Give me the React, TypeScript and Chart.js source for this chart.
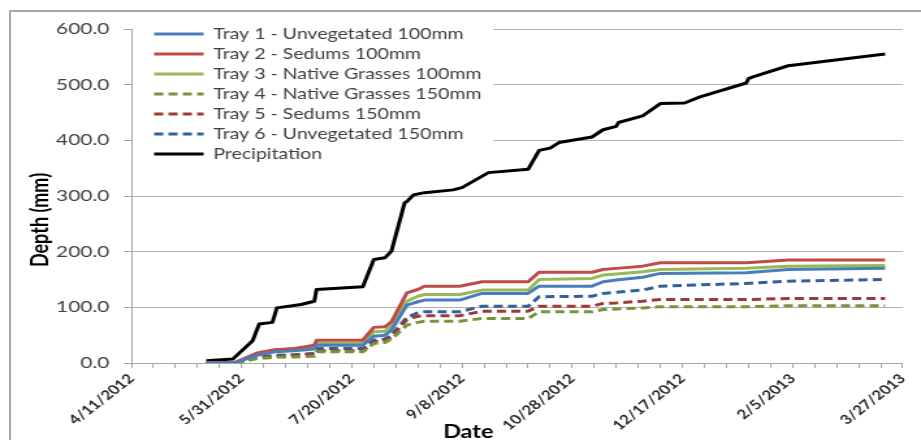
import React, { useEffect, useRef } from 'react';
import { Chart, registerables } from 'chart.js';

Chart.register(...registerables);

// ---------- data ----------
const AXIS_START = '4/11/2012';
const AXIS_END = '3/27/2013';
const minorTickDays = 10;
const labelEveryDays = 50;
const yTicks = [0, 100, 200, 300, 400, 500, 600];

const seriesNames = [
  'Tray 1 - Unvegetated 100mm',
  'Tray 2 - Sedums 100mm',
  'Tray 3 - Native Grasses 100mm',
  'Tray 4 - Native Grasses 150mm',
  'Tray 5 - Sedums 150mm',
  'Tray 6 - Unvegetated 150mm',
  'Precipitation',
];

const precipDates = [
  '5/15/2012', '5/27/2012', '6/5/2012', '6/8/2012', '6/14/2012', '6/16/2012', '6/27/2012',
  '7/3/2012', '7/4/2012', '7/25/2012', '7/30/2012', '8/4/2012', '8/7/2012', '8/13/2012',
  '8/14/2012', '8/17/2012', '8/22/2012', '9/4/2012', '9/8/2012', '9/20/2012', '10/8/2012',
  '10/13/2012', '10/18/2012', '10/22/2012', '11/6/2012', '11/11/2012', '11/17/2012',
  '11/18/2012', '11/29/2012', '12/7/2012', '12/18/2012', '12/25/2012', '1/15/2013',
  '1/16/2013', '1/18/2013', '2/3/2013', '3/19/2013',
];
const precipitation = [
  4, 7, 40, 70, 73, 99, 105,
  111, 132, 137, 186, 189, 201, 288,
  290, 302, 306, 311, 315, 342, 348,
  382, 386, 396, 406, 419, 425,
  432, 444, 466, 467, 478, 503,
  511, 514, 534, 555,
];

const trayDates = [
  '5/15/2012', '5/28/2012', '6/7/2012', '6/15/2012', '6/24/2012', '7/3/2012', '7/4/2012',
  '7/25/2012', '7/30/2012', '8/4/2012', '8/7/2012', '8/14/2012', '8/19/2012', '8/22/2012',
  '9/7/2012', '9/17/2012', '10/8/2012', '10/13/2012', '11/6/2012', '11/11/2012', '11/17/2012',
  '11/29/2012', '12/7/2012', '1/15/2013', '2/3/2013', '3/19/2013',
];
const tray1 = [0, 0, 14, 20, 22, 25, 32, 32, 48, 50, 59, 104, 110, 113, 113, 125, 125, 138, 138, 146, 149, 154, 161, 162, 168, 170];
const tray2 = [0, 1, 18, 24, 26, 32, 41, 41, 64, 65, 74, 126, 132, 138, 138, 146, 146, 163, 163, 168, 170, 174, 180, 180, 185, 185];
const tray3 = [0, 1, 16, 23, 25, 29, 35, 35, 56, 57, 67, 111, 120, 123, 123, 131, 131, 150, 152, 158, 160, 164, 168, 170, 174, 175];
const tray4 = [0, 0, 8, 10, 11, 12, 20, 20, 35, 37, 43, 68, 73, 75, 75, 80, 80, 92, 92, 96, 97, 99, 101, 101, 103, 103];
const tray5 = [0, 0, 10, 12, 14, 16, 22, 22, 38, 40, 47, 78, 84, 85, 85, 93, 93, 102, 102, 107, 108, 111, 114, 114, 116, 116];
const tray6 = [0, 0, 10, 14, 15, 17, 26, 26, 41, 43, 50, 82, 90, 92, 92, 102, 102, 119, 120, 125, 127, 131, 138, 143, 147, 150];

// ---------- helpers ----------
const DAY_MS = 86400000;
const toUTC = (s: string) => {
  const [m, d, y] = s.split('/').map(Number);
  return Date.UTC(y, m - 1, d);
};
const ORIGIN = toUTC(AXIS_START);
const toDay = (s: string) => Math.round((toUTC(s) - ORIGIN) / DAY_MS);
const fmtDay = (n: number) => {
  const dt = new Date(ORIGIN + n * DAY_MS);
  return `${dt.getUTCMonth() + 1}/${dt.getUTCDate()}/${dt.getUTCFullYear()}`;
};
const pts = (dates: string[], vals: number[]) => dates.map((d, i) => ({ x: toDay(d), y: vals[i] }));

const FONT = 'Lato';
const STRETCH = 1.3; // source picture is horizontally stretched
const CSS_W = 921;
const CSS_H = 440;
const BMP_W = Math.round(CSS_W / STRETCH);

const legendPlacement = {
  id: 'legendPlacement',
  afterLayout(chart: any) {
    const lg = chart.legend;
    if (!lg) return;
    const ca = chart.chartArea;
    lg.left = ca.left + 12.5;
    lg.right = lg.left + lg.width;
    lg.top = ca.top - 7.5;
    lg.bottom = lg.top + lg.height;
  },
  beforeDatasetsDraw(chart: any) {
    const lg = chart.legend;
    if (!lg || !lg.legendHitBoxes || !lg.legendHitBoxes.length) return;
    const ctx = chart.ctx;
    const ca = chart.chartArea;
    const boxes = lg.legendHitBoxes;
    const right = Math.max(...boxes.map((b: any) => b.left + b.width)) + 9;
    const last = boxes[boxes.length - 1];
    const bottom = last.top + last.height + 4;
    ctx.save();
    ctx.fillStyle = '#ffffff';
    ctx.fillRect(ca.left + 1, lg.top - 2, right - ca.left - 1, bottom - lg.top + 2);
    ctx.restore();
    lg.draw();
  },
};

const axisTitles = {
  id: 'axisTitles',
  afterDraw(chart: any) {
    const ctx = chart.ctx;
    ctx.save();
    ctx.fillStyle = '#000000';
    ctx.font = `bold 18px ${FONT}`;
    ctx.textAlign = 'center';
    ctx.textBaseline = 'middle';
    ctx.fillText('Date', 360, 432);
    ctx.translate(31, 220);
    ctx.rotate(-Math.PI / 2);
    ctx.fillText('Depth (mm)', 0, 0);
    ctx.restore();
  },
};

export default function App() {
  const ref = useRef<HTMLCanvasElement>(null);

  useEffect(() => {
    const canvas = ref.current;
    if (!canvas) return;
    const trays = [tray1, tray2, tray3, tray4, tray5, tray6];
    const colors = ['#4A7EBB', '#BE4B48', '#98B954', '#77933C', '#9C3A37', '#31609A'];
    const dashed = [false, false, false, true, true, true];
    const datasets: any[] = trays.map((vals, i) => ({
      label: seriesNames[i],
      data: pts(trayDates, vals),
      borderColor: colors[i],
      backgroundColor: colors[i],
      borderWidth: 3,
      borderDash: dashed[i] ? [7, 4] : [],
      pointRadius: 0,
      tension: 0,
      fill: false,
      borderJoinStyle: 'round',
    }));
    datasets.push({
      label: seriesNames[6],
      data: pts(precipDates, precipitation),
      borderColor: '#000000',
      backgroundColor: '#000000',
      borderWidth: 3,
      borderDash: [],
      pointRadius: 0,
      tension: 0,
      fill: false,
      borderJoinStyle: 'round',
    });

    const chart = new Chart(canvas, {
      type: 'line',
      data: { datasets },
      options: {
        responsive: false,
        animation: false,
        devicePixelRatio: 1,
        layout: { padding: { top: 29, right: BMP_W - Math.round(902 / STRETCH), left: 0, bottom: 0 } },
        plugins: {
          legend: {
            position: 'chartArea',
            align: 'start',
            labels: {
              usePointStyle: true,
              pointStyle: 'line',
              pointStyleWidth: 38,
              padding: 5,
              color: '#404040',
              font: { family: FONT, size: 15 },
              generateLabels: (c: any) => {
                const items = (Chart.defaults as any).plugins.legend.labels.generateLabels(c);
                return items.map((it: any) => {
                  const ds = c.data.datasets[it.datasetIndex];
                  return { ...it, lineDash: ds.borderDash, strokeStyle: ds.borderColor, lineWidth: ds.borderWidth };
                });
              },
            },
          } as any,
          tooltip: { enabled: false },
        },
        scales: {
          x: {
            type: 'linear',
            min: 0,
            max: toDay(AXIS_END),
            afterFit: (s: any) => { s.height = CSS_H - 363; },
            grid: { drawOnChartArea: false, drawTicks: true, tickLength: 5, color: '#a6a6a6' },
            border: { color: '#a6a6a6', width: 1 },
            ticks: {
              stepSize: minorTickDays,
              autoSkip: false,
              maxRotation: 45,
              minRotation: 45,
              color: '#262626',
              font: { family: FONT, size: 13, weight: 'bold' },
              callback: (v: any) => (Number(v) % labelEveryDays === 0 ? fmtDay(Number(v)) : ''),
            },
          },
          y: {
            type: 'linear',
            min: yTicks[0],
            max: yTicks[yTicks.length - 1],
            afterFit: (s: any) => { s.width = Math.round(131 / STRETCH); },
            grid: { color: '#b3b3b3', tickLength: 6, tickColor: '#a6a6a6' },
            border: { color: '#a6a6a6', width: 1 },
            ticks: {
              stepSize: 100,
              padding: 11,
              color: '#404040',
              font: { family: FONT, size: 16 },
              callback: (v: any) => Number(v).toFixed(1),
            },
          },
        },
      } as any,
      plugins: [legendPlacement, axisTitles],
    });
    return () => chart.destroy();
  }, []);

  return (
    <div style={{ position: 'fixed', left: 0, top: 0, width: CSS_W, height: CSS_H, background: '#ffffff', overflow: 'hidden' }}>
      <div style={{ position: 'absolute', left: 9, top: 10, width: 1000, height: 1000, border: '2px solid #a6a6a6' }} />
      <canvas
        ref={ref}
        width={BMP_W}
        height={CSS_H}
        style={{ position: 'absolute', left: 0, top: 0, width: `${CSS_W}px`, height: `${CSS_H}px` }}
      />
    </div>
  );
}
